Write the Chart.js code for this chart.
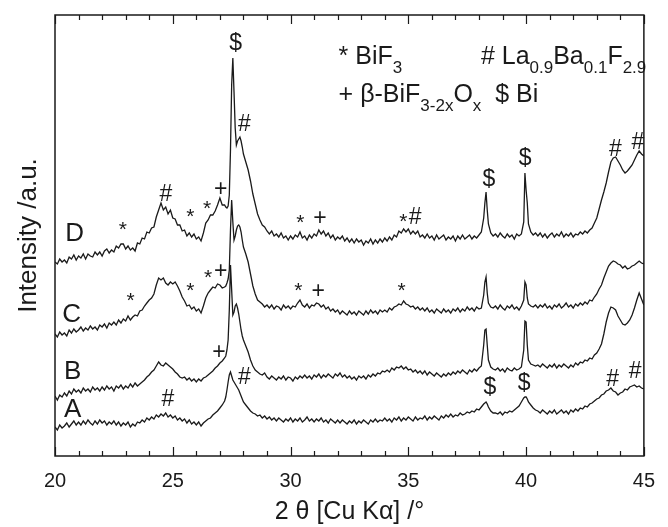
<!DOCTYPE html>
<html>
<head>
<meta charset="utf-8">
<title>XRD patterns A-D</title>
<script src="https://cdn.jsdelivr.net/npm/chart.js@4.4.1/dist/chart.umd.min.js"></script>
<style>
  html, body { margin: 0; padding: 0; background: #fff; }
  canvas { display: block; }
</style>
</head>
<body>
<canvas id="xrd" width="668" height="527"></canvas>
<script>
// 2 theta positions (deg), 0.1 deg steps, denser around the sharp Bi reflections
const twoTheta = [
    20.0, 20.1, 20.2, 20.3, 20.4, 20.5, 20.6, 20.7, 20.8, 20.9, 21.0, 21.1, 21.2, 21.3, 21.4, 21.5, 21.6, 21.7, 21.8, 21.9,
    22.0, 22.1, 22.2, 22.3, 22.4, 22.5, 22.6, 22.7, 22.8, 22.9, 23.0, 23.1, 23.2, 23.3, 23.4, 23.5, 23.6, 23.7, 23.8, 23.9,
    24.0, 24.1, 24.2, 24.3, 24.4, 24.5, 24.6, 24.7, 24.8, 24.9, 25.0, 25.1, 25.2, 25.3, 25.4, 25.5, 25.6, 25.7, 25.8, 25.9,
    26.0, 26.1, 26.2, 26.3, 26.4, 26.5, 26.6, 26.7, 26.8, 26.9, 27.0, 27.1, 27.2,
    27.25, 27.3, 27.35, 27.4, 27.45, 27.5, 27.55, 27.6, 27.65, 27.7, 27.75, 27.8, 27.85, 27.9, 27.95, 28.0,
    28.1, 28.2, 28.3, 28.4, 28.5, 28.6, 28.7, 28.8, 28.9, 29.0, 29.1, 29.2, 29.3, 29.4, 29.5, 29.6, 29.7, 29.8, 29.9, 30.0,
    30.1, 30.2, 30.3, 30.4, 30.5, 30.6, 30.7, 30.8, 30.9, 31.0, 31.1, 31.2, 31.3, 31.4, 31.5, 31.6, 31.7, 31.8, 31.9, 32.0,
    32.1, 32.2, 32.3, 32.4, 32.5, 32.6, 32.7, 32.8, 32.9, 33.0, 33.1, 33.2, 33.3, 33.4, 33.5, 33.6, 33.7, 33.8, 33.9, 34.0,
    34.1, 34.2, 34.3, 34.4, 34.5, 34.6, 34.7, 34.8, 34.9, 35.0, 35.1, 35.2, 35.3, 35.4, 35.5, 35.6, 35.7, 35.8, 35.9, 36.0,
    36.1, 36.2, 36.3, 36.4, 36.5, 36.6, 36.7, 36.8, 36.9, 37.0, 37.1, 37.2, 37.3, 37.4, 37.5, 37.6, 37.7, 37.8, 37.9, 38.0,
    38.1, 38.2, 38.25, 38.3, 38.35, 38.4, 38.5, 38.6,
    38.7, 38.8, 38.9, 39.0, 39.1, 39.2, 39.3, 39.4, 39.5, 39.6, 39.7, 39.8,
    39.9, 39.95, 40.0, 40.05, 40.1, 40.2, 40.3, 40.4,
    40.5, 40.6, 40.7, 40.8, 40.9, 41.0, 41.1, 41.2, 41.3, 41.4, 41.5, 41.6, 41.7, 41.8, 41.9, 42.0, 42.1, 42.2, 42.3, 42.4,
    42.5, 42.6, 42.7, 42.8, 42.9, 43.0, 43.1, 43.2, 43.3, 43.4, 43.5, 43.6, 43.7, 43.8, 43.9, 44.0, 44.1, 44.2, 44.3, 44.4,
    44.5, 44.6, 44.7, 44.8, 44.9, 45.0
];

// Stacked intensities (a.u., vertical offsets already included)
const patternD = [
    194, 192, 197, 194, 196, 193, 199, 197, 201, 196, 200, 198, 202, 197, 202, 200, 199, 204, 201, 204,
    200, 205, 207, 203, 206, 204, 210, 208, 212, 212, 207, 210, 206, 208, 205, 213, 212, 218, 217, 224,
    223, 228, 229, 239, 246, 253, 246, 249, 242, 246, 238, 237, 231, 231, 225, 226, 220, 223, 219, 222,
    217, 219, 215, 223, 233, 236, 241, 241, 245, 251, 258, 251, 251,
    249, 248, 250, 261, 306, 371, 398, 364, 328, 311, 315, 317, 319, 315, 309, 302,
    294, 286, 275, 262, 252, 242, 236, 231, 229, 225, 222, 225, 220, 222, 219, 223, 218, 220, 216, 220,
    217, 221, 219, 224, 218, 220, 216, 221, 218, 222, 220, 226, 222, 225, 220, 223, 218, 221, 216, 219,
    217, 220, 215, 218, 214, 217, 213, 217, 214, 216, 211, 215, 213, 217, 212, 216, 213, 217, 214, 218,
    215, 219, 216, 221, 219, 225, 223, 227, 224, 227, 222, 225, 222, 225, 219, 221, 218, 222, 218, 220,
    216, 221, 217, 219, 221, 216, 219, 217, 220, 215, 220, 217, 221, 217, 219, 221, 217, 220, 218, 221,
    224, 238, 253, 264, 246, 232, 223, 220,
    222, 219, 223, 220, 218, 222, 219, 221, 217, 222, 220, 222,
    234, 283, 266, 253, 232, 224, 221, 223,
    220, 223, 219, 222, 218, 221, 223, 219, 222, 220, 224, 219, 222, 220, 223, 219, 222, 221, 224, 222,
    225, 223, 226, 228, 233, 238, 247, 256, 264, 273, 284, 294, 298, 299, 295, 291, 286, 283, 285, 288,
    291, 296, 301, 305, 302, 300
];
const patternC = [
    122, 119, 124, 121, 123, 120, 126, 123, 127, 124, 126, 129, 125, 128, 126, 130, 127, 129, 126, 131,
    129, 132, 128, 133, 131, 134, 131, 136, 133, 137, 135, 140, 136, 139, 141, 140, 145, 146, 150, 153,
    156, 158, 162, 171, 178, 176, 178, 173, 171, 174, 172, 174, 170, 165, 159, 155, 150, 151, 147, 149,
    145, 147, 143, 150, 158, 163, 166, 169, 168, 172, 171, 168, 169,
    170, 173, 177, 186, 226, 256, 234, 216, 220, 226, 230, 231, 229, 224, 216, 209,
    202, 194, 182, 170, 162, 156, 154, 152, 149, 151, 148, 151, 147, 150, 149, 146, 151, 148, 150, 147,
    150, 149, 153, 156, 151, 149, 152, 148, 151, 150, 153, 152, 149, 151, 147, 149, 145, 147, 144, 146,
    142, 145, 143, 141, 145, 142, 144, 141, 145, 143, 141, 145, 142, 146, 143, 145, 142, 146, 144, 146,
    144, 148, 146, 149, 150, 152, 151, 155, 152, 151, 149, 150, 147, 149, 146, 148, 145, 148, 144, 146,
    143, 147, 145, 143, 147, 144, 146, 143, 147, 145, 148, 144, 147, 145, 149, 146, 148, 145, 149, 147,
    148, 161, 174, 179, 163, 153, 149, 148,
    150, 147, 151, 148, 146, 150, 148, 151, 147, 149, 146, 150,
    156, 174, 171, 158, 152, 150, 149, 151,
    148, 151, 149, 152, 148, 150, 147, 151, 149, 152, 148, 150, 153, 149, 151, 148, 152, 150, 153, 151,
    154, 152, 156, 155, 159, 162, 167, 171, 178, 184, 190, 193, 195, 194, 192, 191, 188, 190, 187, 188,
    190, 191, 193, 195, 193, 192
];
const patternB = [
    60, 56, 61, 59, 63, 60, 65, 62, 67, 64, 66, 63, 68, 65, 67, 64, 69, 66, 68, 65,
    69, 66, 70, 67, 69, 65, 70, 68, 71, 67, 70, 68, 72, 69, 73, 70, 72, 74, 76, 79,
    81, 84, 86, 90, 94, 91, 90, 93, 91, 89, 87, 84, 82, 79, 78, 79, 76, 78, 75, 77,
    74, 77, 75, 78, 79, 81, 83, 85, 88, 90, 93, 95, 98,
    100, 106, 116, 146, 191, 166, 141, 144, 150, 152, 148, 142, 134, 126, 120, 116,
    110, 104, 96, 90, 86, 84, 82, 81, 83, 79, 77, 80, 78, 76, 79, 77, 80, 76, 79, 78,
    75, 79, 77, 80, 78, 81, 78, 80, 77, 81, 79, 82, 78, 81, 79, 82, 80, 78, 82, 80,
    83, 79, 81, 78, 80, 77, 79, 76, 80, 78, 80, 77, 81, 79, 82, 80, 83, 82, 85, 84,
    86, 84, 88, 86, 89, 88, 90, 87, 89, 86, 87, 84, 86, 83, 85, 82, 85, 81, 84, 82,
    80, 83, 81, 79, 82, 80, 83, 81, 84, 82, 85, 83, 86, 84, 82, 86, 84, 87, 85, 88,
    90, 111, 126, 127, 111, 96, 89, 87,
    86, 88, 85, 87, 84, 88, 86, 85, 88, 86, 87, 89,
    106, 135, 134, 111, 96, 92, 91, 90,
    91, 89, 92, 90, 88, 91, 89, 92, 88, 91, 89, 92, 90, 88, 91, 89, 93, 91, 94, 93,
    96, 95, 98, 97, 101, 103, 107, 112, 122, 134, 143, 149, 148, 146, 140, 136, 132, 131, 133, 136,
    141, 148, 156, 163, 157, 151
];
const patternA = [
    29, 26, 31, 28, 30, 33, 29, 32, 35, 31, 34, 31, 35, 32, 36, 33, 31, 35, 32, 36,
    33, 35, 31, 34, 32, 35, 31, 34, 30, 33, 31, 34, 29, 32, 30, 34, 33, 36, 34, 38,
    36, 39, 37, 41, 39, 42, 40, 43, 39, 41, 38, 40, 36, 38, 35, 37, 33, 36, 32, 34,
    31, 34, 30, 33, 35, 37, 38, 41, 43, 45, 48, 51, 55,
    59, 66, 74, 81, 84, 80, 76, 74, 72, 70, 68, 66, 63, 60, 57, 54,
    51, 48, 45, 43, 42, 40, 41, 38, 40, 37, 39, 36, 38, 35, 38, 36, 34, 37, 35, 38,
    34, 37, 35, 38, 34, 36, 39, 35, 37, 34, 37, 35, 38, 34, 36, 33, 37, 35, 33, 36,
    33, 36, 34, 32, 35, 33, 36, 32, 35, 33, 36, 34, 32, 36, 34, 37, 34, 36, 35, 38,
    35, 37, 34, 38, 36, 39, 35, 38, 36, 39, 37, 35, 39, 36, 38, 37, 40, 36, 39, 37,
    40, 38, 36, 40, 38, 41, 39, 42, 39, 41, 40, 43, 41, 42, 44, 43, 45, 44, 47, 46,
    49, 52, 53, 54, 52, 49, 45, 43,
    43, 42, 44, 41, 44, 43, 45, 44, 46, 48, 50, 54,
    58, 59, 59, 57, 54, 51, 48, 46,
    45, 43, 46, 44, 42, 45, 43, 46, 42, 44, 46, 43, 45, 42, 46, 44, 47, 45, 48, 47,
    50, 49, 52, 53, 55, 57, 58, 61, 62, 65, 66, 68, 65, 64, 61, 63, 64, 67, 66, 69,
    70, 71, 69, 70, 68, 67
];

const sampleNames = ['D', 'C', 'B', 'A'];
const patterns = [patternD, patternC, patternB, patternA];

// Axis range and tick labels
const xMin = 20, xMax = 45;
const xTickLabels = [20, 25, 30, 35, 40, 45];
const yMax = 441;

// Sample labels: [text, 2theta, intensity]
const sampleLabels = [
    ['D', 20.83, 224],
    ['C', 20.71, 143],
    ['B', 20.75, 86],
    ['A', 20.75, 48]
];

// Phase marks above the reflections: [symbol, 2theta, intensity]
const phaseMarks = [
    // D
    ['*', 22.88, 230], ['#', 24.71, 264], ['*', 25.75, 243], ['*', 26.46, 251], ['+', 27.04, 268],
    ['$', 27.67, 414], ['#', 28.04, 334], ['*', 30.42, 237], ['+', 31.25, 239], ['*', 34.79, 238],
    ['#', 35.29, 241], ['$', 38.42, 278], ['$', 39.96, 299], ['#', 43.79, 309], ['#', 44.75, 316],
    // C
    ['*', 23.21, 159], ['*', 25.75, 169], ['*', 26.5, 182], ['+', 27.04, 186], ['*', 30.33, 169],
    ['+', 31.17, 166], ['*', 34.71, 169],
    // B
    ['+', 26.96, 105],
    // A
    ['#', 24.79, 59], ['#', 28.04, 81], ['$', 38.46, 70], ['$', 39.92, 74], ['#', 43.67, 79], ['#', 44.63, 87]
];

// Phase key: left edge (2theta), baseline (intensity), text parts [text, isSubscript]
const phaseKey = [
    { x: 32.04, y: 392, parts: [['* BiF', 0], ['3', 1]] },
    { x: 38.08, y: 392, parts: [['# La', 0], ['0.9', 1], ['Ba', 0], ['0.1', 1], ['F', 0], ['2.9', 1]] },
    { x: 32.04, y: 354, parts: [['+ \u03B2-BiF', 0], ['3-2x', 1], ['O', 0], ['x', 1], ['  $ Bi', 0]] }
];

const FONT = '"Liberation Sans", Arial, sans-serif';
const INK = '#1a1a1a';

// Draw text so that its visible glyph box is centred on (cx, cy)
function centreText(ctx, text, cx, cy) {
    const m = ctx.measureText(text);
    ctx.textAlign = 'center';
    ctx.textBaseline = 'alphabetic';
    ctx.fillText(text, cx, cy + (m.actualBoundingBoxAscent - m.actualBoundingBoxDescent) / 2);
}

// Frame, inward ticks and all annotation text
const xrdDecor = {
    id: 'xrdDecor',
    afterDraw(chart) {
        const { ctx, chartArea: a, scales: { x, y } } = chart;
        ctx.save();
        ctx.strokeStyle = INK;
        ctx.fillStyle = INK;

        ctx.lineWidth = 1.2;
        for (let v = xMin; v <= xMax; v++) {
            const px = Math.round(x.getPixelForValue(v)) + 0.5;
            const len = v % 5 === 0 ? 9 : 5;
            ctx.beginPath();
            ctx.moveTo(px, a.bottom);
            ctx.lineTo(px, a.bottom - len);
            ctx.moveTo(px, a.top);
            ctx.lineTo(px, a.top + len);
            ctx.stroke();
        }
        ctx.lineWidth = 1.5;
        ctx.strokeRect(a.left, a.top, a.right - a.left, a.bottom - a.top);

        ctx.font = '26px ' + FONT;
        sampleLabels.forEach(([t, tx, ty]) => centreText(ctx, t, x.getPixelForValue(tx), y.getPixelForValue(ty)));

        phaseMarks.forEach(([t, tx, ty]) => {
            ctx.font = (t === '*' ? '21px ' : '23px ') + FONT;
            centreText(ctx, t, x.getPixelForValue(tx), y.getPixelForValue(ty));
        });

        ctx.textAlign = 'left';
        ctx.textBaseline = 'alphabetic';
        phaseKey.forEach(line => {
            let cx = x.getPixelForValue(line.x);
            const by = y.getPixelForValue(line.y);
            line.parts.forEach(([t, sub]) => {
                ctx.font = (sub ? '17px ' : '25px ') + FONT;
                ctx.fillText(t, cx, sub ? by + 9 : by);
                cx += ctx.measureText(t).width;
            });
        });
        ctx.restore();
    }
};

const datasets = patterns.map((vals, i) => ({
    label: sampleNames[i],
    data: twoTheta.map((t, j) => ({ x: t, y: vals[j] })),
    borderColor: INK,
    borderWidth: 1.3,
    pointRadius: 0,
    tension: 0,
    fill: false
}));

new Chart(document.getElementById('xrd'), {
    type: 'line',
    data: { datasets },
    plugins: [xrdDecor],
    options: {
        responsive: false,
        animation: false,
        devicePixelRatio: 1,
        layout: { padding: { top: 15, right: 14, left: 0, bottom: 0 } },
        plugins: { legend: { display: false }, tooltip: { enabled: false } },
        scales: {
            x: {
                type: 'linear',
                min: xMin,
                max: xMax,
                afterBuildTicks: scale => { scale.ticks = xTickLabels.map(v => ({ value: v })); },
                afterFit: scale => { scale.height = 71; },
                grid: { display: false, drawTicks: false },
                border: { display: false },
                ticks: { color: INK, padding: 13, font: { family: FONT, size: 20 }, maxRotation: 0 },
                title: {
                    display: true,
                    text: '2 \u03B8 [Cu K\u03B1] /\u00B0',
                    color: INK,
                    font: { family: FONT, size: 25 },
                    padding: { top: 0, bottom: 0 }
                }
            },
            y: {
                min: 0,
                max: yMax,
                afterFit: scale => { scale.width = 55; },
                grid: { display: false, drawTicks: false },
                border: { display: false },
                ticks: { display: false },
                title: {
                    display: true,
                    text: 'Intensity /a.u.',
                    color: INK,
                    font: { family: FONT, size: 26 },
                    padding: { top: 13, bottom: 0 }
                }
            }
        }
    }
});
</script>
</body>
</html>
